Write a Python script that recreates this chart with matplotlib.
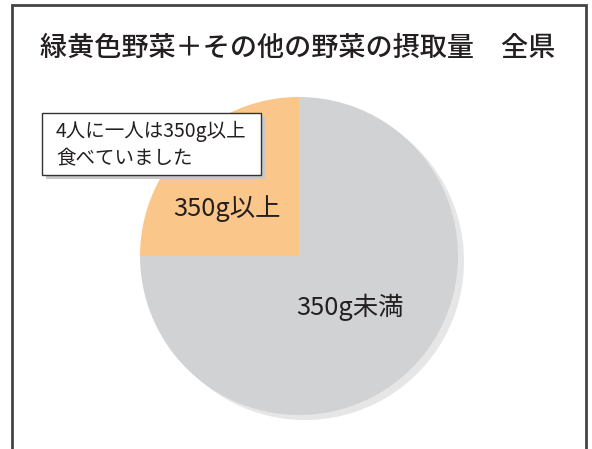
import matplotlib.pyplot as plt
from matplotlib.patches import Rectangle, Circle

plt.rcParams['font.family'] = ['Noto Sans CJK JP', 'DejaVu Sans']

TITLE = '緑黄色野菜＋その他の野菜の摂取量　全県'
labels = ['350g以上', '350g未満']
values = [25, 75]
colors = ['#fbc68a', '#d1d2d4']
note = '4人に一人は350g以上\n食べていました'

W, H = 592, 449
fig = plt.figure(figsize=(W / 100, H / 100), dpi=100)
ax = fig.add_axes([0, 0, 1, 1])

# outer frame (bottom edge runs off the image)
ax.add_patch(Rectangle((12, -20), 574, 464, fill=False, ec='#444444', lw=2))

ax.text(298, H - 48, TITLE, ha='center', va='center', fontsize=19.5,
        color='#231f20', fontweight='medium')

cx, cy, r = 299, H - 256, 159
# soft shadow behind the pie
ax.add_patch(Circle((cx + 6, cy - 5), r, color='#e6e6e6', lw=0, zorder=1))
wedges, _ = ax.pie(values, colors=colors, startangle=90, counterclock=True,
                   center=(cx, cy), radius=r, frame=True,
                   wedgeprops=dict(linewidth=0, zorder=2))
ax.set_xlim(0, W)
ax.set_ylim(0, H)
ax.set_aspect('equal')
ax.axis('off')

ax.text(227, H - 209, labels[0], ha='center', va='center', fontsize=18.3,
        color='#231f20', zorder=3)
ax.text(350, H - 307, labels[1], ha='center', va='center', fontsize=18.3,
        color='#231f20', zorder=3)

# callout box with shadow
bx, by, bw, bh = 42, H - 175, 219, 62
ax.add_patch(Rectangle((bx + 4, by - 4), bw, bh, color='#c8c8c8', lw=0, zorder=4))
ax.add_patch(Rectangle((bx, by), bw, bh, fc='white', ec='#333333', lw=1, zorder=5))
ax.text(bx + 14, by + bh / 2 - 1, note, ha='left', va='center', fontsize=14,
        color='#231f20', linespacing=1.4, zorder=6)

fig.savefig('out.png', dpi=100)
